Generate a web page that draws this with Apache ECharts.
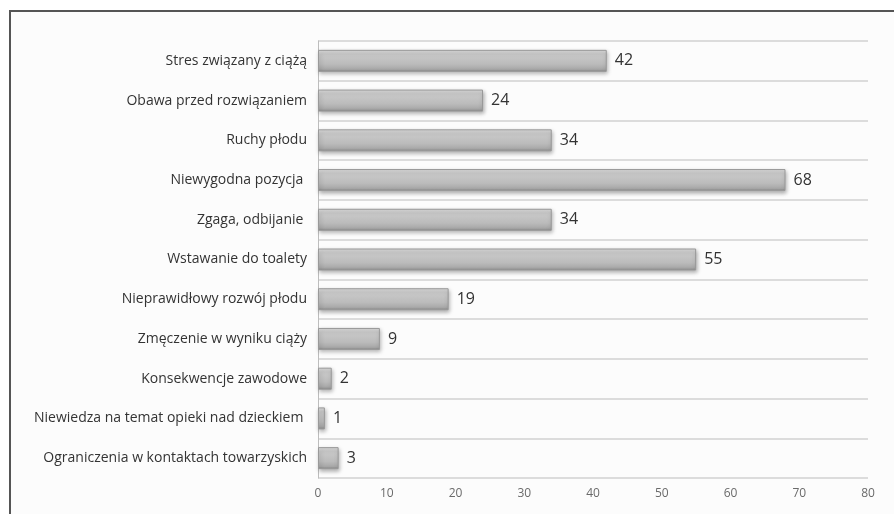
<!DOCTYPE html>
<html>
<head>
    <meta charset="utf-8" />
    <title>Dolegliwości w ciąży</title>
    <script type="text/javascript" src="https://cdn.jsdelivr.net/npm/echarts@6/dist/echarts.min.js"></script>
    <style>
        html, body { margin: 0; padding: 0; background: #fff; }
        #frame {
            position: absolute; left: 9px; top: 10px; width: 900px; height: 520px;
            border-left: 2px solid #555; border-top: 2px solid #555; background: #fcfcfc;
        }
        #main { position: absolute; left: 0; top: 0; width: 894px; height: 514px; }
    </style>
</head>
<body>
<div id="frame"></div>
<div id="main"></div>
<script type="text/javascript">
    // dane
    var categories = [
        'Stres związany z ciążą',
        'Obawa przed rozwiązaniem',
        'Ruchy płodu',
        'Niewygodna pozycja ',
        'Zgaga, odbijanie ',
        'Wstawanie do toalety',
        'Nieprawidłowy rozwój płodu',
        'Zmęczenie w wyniku ciąży',
        'Konsekwencje zawodowe',
        'Niewiedza na temat opieki nad dzieckiem ',
        'Ograniczenia w kontaktach towarzyskich'
    ];
    var values = [42, 24, 34, 68, 34, 55, 19, 9, 2, 1, 3];

    var myChart = echarts.init(document.getElementById('main'));

    // szary "walec" jak w Excelu
    var barColor = new echarts.graphic.LinearGradient(0, 0, 0, 1, [
        { offset: 0, color: '#dedede' },
        { offset: 0.2, color: '#cacaca' },
        { offset: 0.65, color: '#bbbbbb' },
        { offset: 0.88, color: '#a8a8a8' },
        { offset: 1, color: '#878787' }
    ]);

    var option = {
        animation: false,
        backgroundColor: 'transparent',
        textStyle: { fontFamily: '"Open Sans", "DejaVu Sans", sans-serif' },
        grid: { left: 318, right: 26, top: 41, bottom: 36, containLabel: false },
        xAxis: {
            type: 'value',
            min: 0,
            max: 80,
            interval: 10,
            axisLine: { show: false },
            axisTick: { show: false },
            splitLine: { show: false },
            axisLabel: { color: '#6a6a6a', fontSize: 12, margin: 10 }
        },
        yAxis: {
            type: 'category',
            inverse: true,
            data: categories,
            axisLine: { show: true, lineStyle: { color: '#bdbdbd', width: 1 } },
            axisTick: { show: false },
            splitLine: { show: true, lineStyle: { color: '#d2d2d2', width: 1.5 } },
            axisLabel: { color: '#333', fontSize: 14, margin: 11 }
        },
        series: [
            {
                type: 'bar',
                data: values,
                barWidth: 22,
                itemStyle: {
                    color: barColor,
                    borderColor: '#999',
                    borderWidth: 1,
                    shadowColor: 'rgba(0,0,0,0.3)',
                    shadowBlur: 4,
                    shadowOffsetX: 1,
                    shadowOffsetY: 2
                },
                label: {
                    show: true,
                    position: 'right',
                    distance: 8,
                    color: '#333',
                    fontSize: 16
                }
            }
        ]
    };

    myChart.setOption(option);
</script>
</body>
</html>
